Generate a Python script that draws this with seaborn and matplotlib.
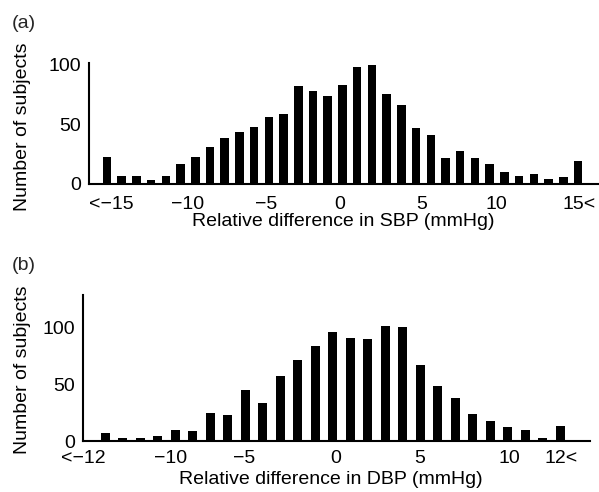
import matplotlib
matplotlib.use("Agg")
import matplotlib.pyplot as plt
import seaborn as sns
import pandas as pd

# ---- data ----
# (a) SBP: bins -16 stands for "<-15", 16 stands for "15<"
sbp_bins = list(range(-16, 17))
sbp_counts = [23, 7, 7, 3, 7, 17, 23, 31, 39, 44, 48, 56, 59, 82, 78, 74, 83,
              98, 100, 76, 66, 47, 41, 22, 28, 22, 17, 10, 7, 8, 4, 6, 19]
sbp_tick_labels = ["<\u221215", "\u221210", "\u22125", "0", "5", "10", "15<"]
sbp_tick_pos = [-15.73, -10.53, -5.2, -0.17, 5.38, 10.43, 16.07]

# (b) DBP: bins -13 stands for "<-12", 13 stands for "12<"
dbp_bins = list(range(-13, 14))
dbp_counts = [7, 3, 3, 4, 10, 9, 25, 23, 45, 34, 57, 72, 84, 96, 91, 90, 102,
              101, 67, 49, 38, 24, 18, 12, 10, 3, 13]
dbp_tick_labels = ["<\u221212", "\u221210", "\u22125", "0", "5", "10", "12<"]
dbp_tick_pos = [-14.26, -9.28, -5.09, 0.16, 5.0, 10.08, 13.05]

y_ticks = [0, 50, 100]

sns.set_style("white")
plt.rcParams["font.family"] = ["Liberation Sans", "DejaVu Sans"]
FS = 14

W, H = 599, 492
fig = plt.figure(figsize=(W / 100, H / 100), dpi=100)


def px_axes(left, right, bottom, top):
    return fig.add_axes([left / W, 1 - bottom / H, (right - left) / W, (bottom - top) / H])


def draw(ax, bins, counts, tick_pos, tick_labels, xlim, ylim, xlabel, bw, xpad,
         xlab_coords, ylab_coords):
    df = pd.DataFrame({"bin": bins, "count": counts})
    sns.barplot(data=df, x="bin", y="count", native_scale=True, orient="x",
                color="black", saturation=1, width=bw, errorbar=None,
                edgecolor="none", ax=ax)
    ax.set_xlim(*xlim)
    ax.set_ylim(*ylim)
    ax.set_xticks(tick_pos)
    ax.set_xticklabels(tick_labels)
    ax.set_yticks(y_ticks)
    ax.tick_params(axis="both", length=0, labelsize=FS, colors="black")
    ax.tick_params(axis="x", pad=xpad)
    ax.tick_params(axis="y", pad=6)
    for s in ["top", "right"]:
        ax.spines[s].set_visible(False)
    for s in ["left", "bottom"]:
        ax.spines[s].set_color("black")
        ax.spines[s].set_linewidth(1.5)
    ax.set_xlabel(xlabel, fontsize=FS, color="black")
    ax.set_ylabel("Number of subjects", fontsize=FS, color="black")
    ax.xaxis.set_label_coords(*xlab_coords)
    ax.xaxis.label.set_va("center")
    ax.yaxis.set_label_coords(*ylab_coords)
    ax.yaxis.label.set_va("center")
    ax.set_facecolor("white")


ax1 = px_axes(89, 598, 184, 62.6)
draw(ax1, sbp_bins, sbp_counts, sbp_tick_pos, sbp_tick_labels,
     (-17.22, 17.36), (0, 102), "Relative difference in SBP (mmHg)", 0.58, 8.5,
     (0.5, (184 - 221) / 121.4), ((23 - 89) / 509, 0.472))

ax2 = px_axes(83.3, 590, 441, 295)
draw(ax2, dbp_bins, dbp_counts, dbp_tick_pos, dbp_tick_labels,
     (-13.47, 14.71), (0, 129), "Relative difference in DBP (mmHg)", 0.52, 6.5,
     (0.489, (441 - 480) / 146), ((23 - 83.3) / 506.7, 0.486))

fig.text(12 / W, 1 - 24 / H, "(a)", fontsize=FS, ha="left", va="center")
fig.text(12 / W, 1 - 266 / H, "(b)", fontsize=FS, ha="left", va="center")

fig.savefig("out.png", dpi=100, facecolor="white")
